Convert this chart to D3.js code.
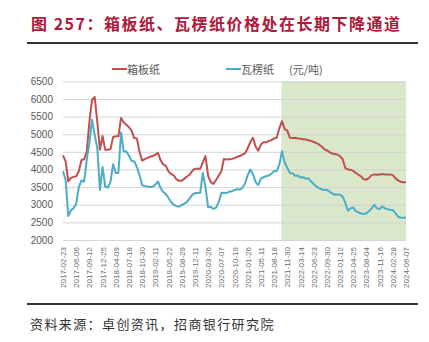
<!DOCTYPE html>
<html><head><meta charset="utf-8">
<script src="https://cdn.jsdelivr.net/npm/d3@7"></script>
<style>
html,body{margin:0;padding:0;background:#fff;}
svg{display:block;}
</style>
</head><body>
<svg id="c" width="429" height="342"></svg>
<script>
const title = "图 257：箱板纸、瓦楞纸价格处在长期下降通道";
const source = "资料来源：卓创资讯，招商银行研究院";
const seriesNames = ["箱板纸", "瓦楞纸"];
const unitLabel = "(元/吨)";
const tickLabels = ["2017-02-23","2017-06-06","2017-09-12","2017-12-25","2018-04-09","2018-07-18","2018-10-30","2019-02-11","2019-05-22","2019-08-29","2019-12-11","2020-03-26","2020-07-07","2020-10-19","2021-01-26","2021-05-11","2021-08-18","2021-11-30","2022-03-14","2022-06-23","2022-09-30","2023-01-12","2023-04-25","2023-08-04","2023-11-16","2024-02-28","2024-06-07"];
const yTicks = [2000,2500,3000,3500,4000,4500,5000,5500,6000,6500];
const shadeFromIndex = 82.8;
const boxboard = [4400,4230,3660,3760,3790,3810,3950,4270,4290,4500,
5350,5970,6060,5350,4560,4950,4560,4560,4580,4920,
4940,4940,5460,5340,5270,5200,5100,4890,4880,4500,
4250,4290,4330,4360,4380,4420,4470,4260,4140,4100,
3940,3870,3830,3720,3680,3680,3740,3800,3850,3960,
4020,4020,4020,4200,4380,3820,3640,3590,3700,3820,
3950,4300,4280,4290,4300,4320,4360,4380,4420,4460,
4600,4780,4900,4650,4530,4710,4770,4770,4810,4830,
4880,4900,5170,5370,5150,5100,4900,4890,4900,4880,
4870,4860,4850,4830,4810,4780,4750,4710,4650,4580,
4540,4490,4450,4440,4420,4380,4290,4040,4000,3990,
3960,3900,3850,3800,3720,3710,3760,3840,3860,3850,
3860,3870,3860,3860,3860,3840,3750,3690,3650,3640,3640];
const corrugated = [3950,3700,2680,2840,2900,3030,3500,3690,3650,4280,
4750,5410,4990,4600,3420,4070,3510,3490,3650,4150,
3900,3900,5050,4510,4510,4390,4240,4230,4070,3840,
3550,3530,3520,3500,3510,3570,3660,3470,3360,3300,
3190,3070,3000,2960,2950,2990,3030,3080,3180,3280,
3330,3330,3340,3900,3500,2930,2940,2880,2920,3070,
3330,3340,3330,3370,3380,3420,3440,3430,3480,3600,
3840,4000,3870,3640,3560,3740,3780,3810,3830,3880,
3960,3950,4140,4520,4200,4050,3900,3890,3820,3830,
3770,3780,3740,3750,3660,3590,3520,3470,3440,3420,
3420,3370,3320,3290,3290,3280,3230,3050,2830,2900,
2920,2820,2780,2750,2740,2760,2820,2900,3000,2900,
2880,2950,2900,2870,2860,2850,2760,2660,2630,2630,2640];

const svg = d3.select("#c");
const font = "'Liberation Sans', Arial, 'Noto Sans CJK SC', sans-serif";
const cjk = "'Noto Sans CJK SC', 'Liberation Sans', sans-serif";
const n = boxboard.length;
const x = d3.scaleLinear().domain([0, n - 1]).range([63, 406]);
const y = d3.scaleLinear().domain([2000, 6500]).range([240, 81.3]);

// title
svg.append("text").attr("x", 31).attr("y", 22.5).attr("dominant-baseline", "central")
  .attr("font-family", cjk).attr("font-weight", "bold").attr("font-size", 16)
  .attr("letter-spacing", 1.5).attr("fill", "#b0193b").text(title);
svg.append("line").attr("x1", 27).attr("x2", 418).attr("y1", 43).attr("y2", 43)
  .attr("stroke", "#333").attr("stroke-width", 2);

// shaded band
svg.append("rect").attr("x", x(shadeFromIndex)).attr("y", y(6500))
  .attr("width", x(n - 1) - x(shadeFromIndex)).attr("height", y(2000) - y(6500))
  .attr("fill", "#dbe7cb");

// y axis + grid
const yAxis = svg.append("g").attr("transform", `translate(${x(0)},0)`)
  .call(d3.axisLeft(y).tickValues(yTicks).tickFormat(d3.format("d")).tickSize(-(x(n - 1) - x(0))).tickPadding(10));
yAxis.select(".domain").remove();
yAxis.selectAll(".tick line").attr("stroke", "#d0d0d0").attr("stroke-width", 1).attr("stroke-opacity", 0.9);
yAxis.selectAll(".tick text").attr("font-family", font).attr("font-size", 10).attr("fill", "#595959");

// x axis
const xAxis = svg.append("g").attr("transform", `translate(0,${y(2000)})`)
  .call(d3.axisBottom(x).tickValues(d3.range(0, n, 5)).tickFormat(i => tickLabels[i / 5]).tickSize(0));
xAxis.select(".domain").remove();
xAxis.selectAll(".tick text").attr("font-family", font).attr("font-size", 8).attr("fill", "#6b6b6b")
  .attr("transform", "rotate(-90)").attr("text-anchor", "end").attr("dy", "0.32em").attr("dx", "-7").attr("y", 0).attr("x", 0);

// lines
const line = d3.line().x((d, i) => x(i)).y(d => y(d));
svg.append("path").datum(boxboard).attr("d", line).attr("fill", "none")
  .attr("stroke", "#c0504d").attr("stroke-width", 2).attr("stroke-linejoin", "round");
svg.append("path").datum(corrugated).attr("d", line).attr("fill", "none")
  .attr("stroke", "#4bacc6").attr("stroke-width", 2).attr("stroke-linejoin", "round");

// legend
const lg = svg.append("g").attr("font-family", cjk).attr("font-size", 11).attr("fill", "#595959");
const legendItems = [{name: seriesNames[0], color: "#c0504d", x: 112}, {name: seriesNames[1], color: "#4bacc6", x: 226}];
legendItems.forEach(d => {
  lg.append("line").attr("x1", d.x).attr("x2", d.x + 15).attr("y1", 69).attr("y2", 69)
    .attr("stroke", d.color).attr("stroke-width", 2);
  lg.append("text").attr("x", d.x + 15).attr("y", 69).attr("dominant-baseline", "central").text(d.name);
});
lg.append("text").attr("x", 289).attr("y", 69).attr("dominant-baseline", "central").text(unitLabel);

// source
svg.append("line").attr("x1", 27).attr("x2", 418).attr("y1", 304).attr("y2", 304)
  .attr("stroke", "#333").attr("stroke-width", 2);
svg.append("text").attr("x", 30).attr("y", 323).attr("dominant-baseline", "central")
  .attr("font-family", cjk).attr("font-size", 13).attr("letter-spacing", 1.4).attr("fill", "#333").text(source);
</script>
</body></html>
